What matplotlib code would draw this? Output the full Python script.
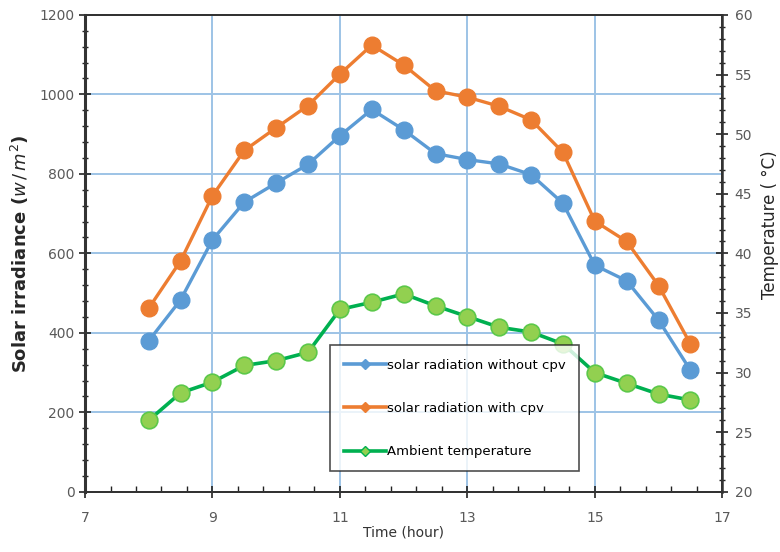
import matplotlib
matplotlib.use("Agg")
import matplotlib.pyplot as plt
from matplotlib.lines import Line2D
from matplotlib.ticker import MultipleLocator

hours = [8, 8.5, 9, 9.5, 10, 10.5, 11, 11.5, 12, 12.5, 13, 13.5, 14, 14.5, 15, 15.5, 16, 16.5]
rad_without = [380, 483, 634, 729, 777, 824, 896, 962, 911, 851, 836, 825, 798, 726, 570, 531, 432, 306]
rad_with = [462, 581, 745, 859, 916, 972, 1051, 1124, 1074, 1009, 993, 970, 936, 854, 681, 630, 519, 372]
ambient = [26.0, 28.3, 29.2, 30.6, 31.0, 31.7, 35.3, 35.9, 36.6, 35.6, 34.7, 33.8, 33.4, 32.4, 30.0, 29.1, 28.2, 27.7]

labels = ["solar radiation without cpv", "solar radiation with cpv", "Ambient temperature"]

blue = "#5B9BD5"
orange = "#ED7D31"
green_line = "#00B050"
green_fill = "#92D050"
grid_c = "#9DC3E6"
tick_c = "#595959"

fig = plt.figure(figsize=(7.8, 5.52), dpi=100)
ax = fig.add_axes([0.109, 0.109, 0.817, 0.864])
ax2 = ax.twinx()

ax.plot(hours, rad_without, color=blue, lw=2.4, marker="o", ms=12,
        markerfacecolor=blue, markeredgecolor=blue, zorder=3)
ax.plot(hours, rad_with, color=orange, lw=2.4, marker="o", ms=12,
        markerfacecolor=orange, markeredgecolor=orange, zorder=3)
ax2.plot(hours, ambient, color=green_line, lw=2.6, marker="o", ms=12,
         markerfacecolor=green_fill, markeredgecolor="#5CC84A", markeredgewidth=1.2, zorder=3)

ax.set_xlim(7, 17)
ax.set_ylim(0, 1200)
ax2.set_ylim(20, 60)

ax.xaxis.set_major_locator(MultipleLocator(2, offset=1))
ax.xaxis.set_minor_locator(MultipleLocator(0.4, offset=0.2))
ax.yaxis.set_major_locator(MultipleLocator(200))
ax.yaxis.set_minor_locator(MultipleLocator(40))
ax2.yaxis.set_major_locator(MultipleLocator(5))
ax2.yaxis.set_minor_locator(MultipleLocator(1))

ax.grid(True, which="major", color=grid_c, lw=1.4, zorder=0)
ax.set_axisbelow(True)

ax.tick_params(axis="x", which="major", direction="inout", length=8, width=1.2, colors="#222222",
               labelcolor=tick_c, labelsize=10, pad=10)
ax.tick_params(axis="x", which="minor", direction="in", length=4, width=1, colors="#222222")
ax.tick_params(axis="y", which="major", direction="inout", length=8, width=1.2, colors="#222222",
               labelcolor=tick_c, labelsize=10)
ax.tick_params(axis="y", which="minor", direction="inout", length=4, width=1, colors="#222222")
ax2.tick_params(axis="y", which="major", direction="inout", length=8, width=1.2, colors="#222222",
                labelcolor=tick_c, labelsize=10, pad=5)
ax2.tick_params(axis="y", which="minor", direction="inout", length=4, width=1, colors="#222222")

for s in ["left", "bottom", "right", "top"]:
    ax.spines[s].set_color("#333333")
    ax.spines[s].set_linewidth(1.4)
    ax2.spines[s].set_color("#333333")
    ax2.spines[s].set_linewidth(1.4)
ax.spines["left"].set_linewidth(2.2)
ax2.spines["right"].set_linewidth(1.8)

ax.set_xlabel("Time (hour)", fontsize=10, color="#333333", labelpad=0)
ax.set_ylabel(r"Solar irradiance $\mathbf{(}w\,/\,m^2\mathbf{)}$", fontsize=13, fontweight="bold",
              color="#262626", labelpad=6)
ax2.set_ylabel("Temperature ( °C)", fontsize=12, color="#262626")
ax2.yaxis.set_label_coords(1.06, 0.56)

handles = [
    Line2D([], [], color=blue, lw=2.6, marker="D", ms=5, markerfacecolor=blue),
    Line2D([], [], color=orange, lw=2.6, marker="D", ms=5, markerfacecolor=orange),
    Line2D([], [], color=green_line, lw=2.6, marker="D", ms=5, markerfacecolor=green_fill),
]
leg = ax2.legend(handles, labels, loc="upper left", bbox_to_anchor=(0.385, 0.307),
                 fontsize=9.5, frameon=True, fancybox=False, edgecolor="#222222",
                 labelspacing=2.3, handlelength=3.2, handletextpad=0.1,
                 borderpad=1.0, borderaxespad=0)
leg.get_frame().set_linewidth(1.2)
leg.set_zorder(10)

fig.savefig("out.png", dpi=100)
